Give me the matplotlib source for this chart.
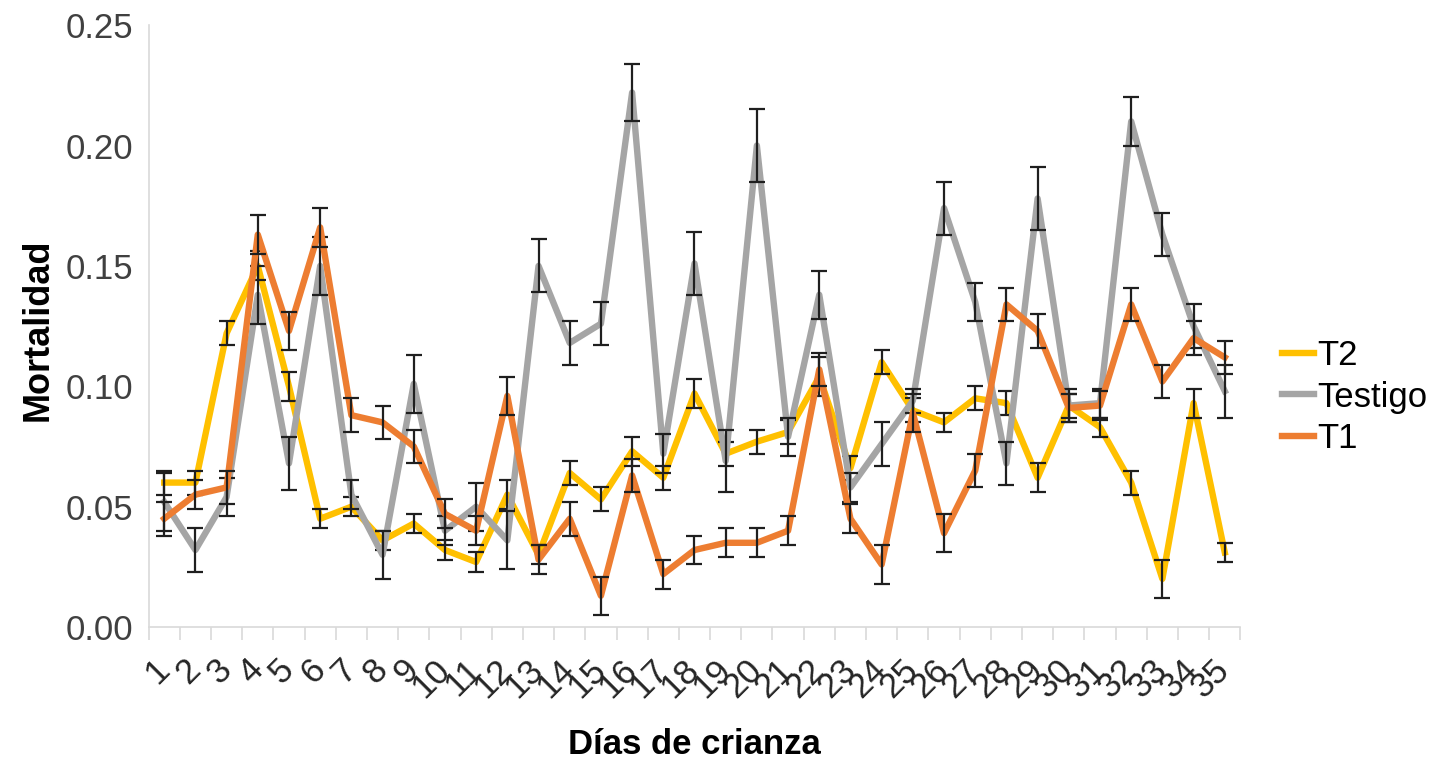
import matplotlib
matplotlib.use('Agg')
import matplotlib.pyplot as plt
from matplotlib.ticker import FormatStrFormatter, FixedLocator

plt.rcParams['font.family'] = ['Liberation Sans', 'DejaVu Sans']

dias = list(range(1, 36))
etiquetas = [str(d) for d in dias]

t2 = [0.060, 0.060, 0.122, 0.150, 0.100, 0.045, 0.050, 0.036, 0.043, 0.032,
      0.027, 0.055, 0.030, 0.064, 0.053, 0.073, 0.062, 0.097, 0.072, 0.077,
      0.081, 0.104, 0.066, 0.110, 0.090, 0.085, 0.095, 0.093, 0.062, 0.092,
      0.083, 0.060, 0.020, 0.093, 0.031]
testigo = [0.052, 0.032, 0.054, 0.138, 0.068, 0.150, 0.055, 0.030, 0.101, 0.040,
           0.050, 0.036, 0.150, 0.118, 0.126, 0.222, 0.072, 0.151, 0.069, 0.200,
           0.079, 0.138, 0.058, 0.076, 0.094, 0.174, 0.135, 0.068, 0.178, 0.092,
           0.093, 0.210, 0.163, 0.125, 0.098]
t1 = [0.045, 0.055, 0.058, 0.163, 0.123, 0.166, 0.088, 0.085, 0.075, 0.047,
      0.040, 0.096, 0.028, 0.045, 0.013, 0.063, 0.022, 0.032, 0.035, 0.035,
      0.040, 0.107, 0.045, 0.026, 0.089, 0.039, 0.065, 0.134, 0.123, 0.091,
      0.092, 0.134, 0.102, 0.120, 0.112]

# errores (barras)
err_t2 = [0.005, 0.005, 0.005, 0.006, 0.006, 0.004, 0.004, 0.004, 0.004, 0.004,
          0.004, 0.006, 0.004, 0.005, 0.005, 0.006, 0.005, 0.006, 0.005, 0.005,
          0.005, 0.008, 0.005, 0.005, 0.005, 0.004, 0.005, 0.005, 0.006, 0.005,
          0.004, 0.005, 0.008, 0.006, 0.004]
err_testigo = [0.012, 0.009, 0.008, 0.012, 0.011, 0.012, 0.006, 0.010, 0.012, 0.006,
               0.010, 0.012, 0.011, 0.009, 0.009, 0.012, 0.008, 0.013, 0.013, 0.015,
               0.008, 0.010, 0.006, 0.009, 0.005, 0.011, 0.008, 0.009, 0.013, 0.007,
               0.006, 0.010, 0.009, 0.009, 0.011]
err_t1 = [0.007, 0.006, 0.007, 0.008, 0.008, 0.008, 0.007, 0.007, 0.007, 0.006,
          0.006, 0.008, 0.006, 0.007, 0.008, 0.007, 0.006, 0.006, 0.006, 0.006,
          0.006, 0.007, 0.006, 0.008, 0.008, 0.008, 0.007, 0.007, 0.007, 0.006,
          0.006, 0.007, 0.007, 0.007, 0.007]

series = [('T2', t2, err_t2, '#FFC000'),
          ('Testigo', testigo, err_testigo, '#A5A5A5'),
          ('T1', t1, err_t1, '#ED7D31')]

fig = plt.figure(figsize=(14.29, 7.61), dpi=100)
ax = fig.add_axes([0.104, 0.176, 0.764, 0.791])

for i, (nombre, vals, errs, col) in enumerate(series):
    ax.plot(dias, vals, color=col, lw=4.6, label=nombre, zorder=2 + i)
    ax.errorbar(dias, vals, yerr=errs, fmt='none', ecolor='#1f1f1f',
                elinewidth=1.6, capsize=6, capthick=1.6, zorder=2.5 + i)

ax.set_xlim(0.5, 35.5)
ax.set_ylim(0, 0.25)
ax.set_yticks([0, 0.05, 0.10, 0.15, 0.20, 0.25])
ax.yaxis.set_major_formatter(FormatStrFormatter('%.2f'))
ax.tick_params(axis='y', length=0, pad=11, labelsize=25, labelcolor='#404040')

ax.set_xticks(dias)
ax.set_xticklabels(etiquetas, rotation=45, ha='right', va='center',
                   rotation_mode='anchor')
ax.tick_params(axis='x', which='major', length=0, pad=27, labelsize=25,
               labelcolor='#262626')
ax.xaxis.set_minor_locator(FixedLocator([d + 0.5 for d in range(0, 36)]))
ax.tick_params(axis='x', which='minor', length=9, width=1.2, color='#D9D9D9')

for s in ['top', 'right']:
    ax.spines[s].set_visible(False)
ax.spines['left'].set_color('#D9D9D9')
ax.spines['bottom'].set_color('#D9D9D9')
ax.spines['left'].set_linewidth(1.2)
ax.spines['bottom'].set_linewidth(1.2)

fig.text(38 / 1429, 1 - 330 / 761, 'Mortalidad', rotation=90, ha='center',
         va='center', fontsize=26, fontweight='bold')
fig.text(694 / 1429, 1 - 745 / 761, 'Días de crianza', ha='center',
         va='center', fontsize=25, fontweight='bold')

fig.legend(loc='center left', bbox_to_anchor=(1265 / 1429, 1 - 397 / 761),
           frameon=False, fontsize=25, handlelength=0.9, handletextpad=0.1,
           labelspacing=0.25, borderpad=0)

fig.savefig('out.png', dpi=100)
